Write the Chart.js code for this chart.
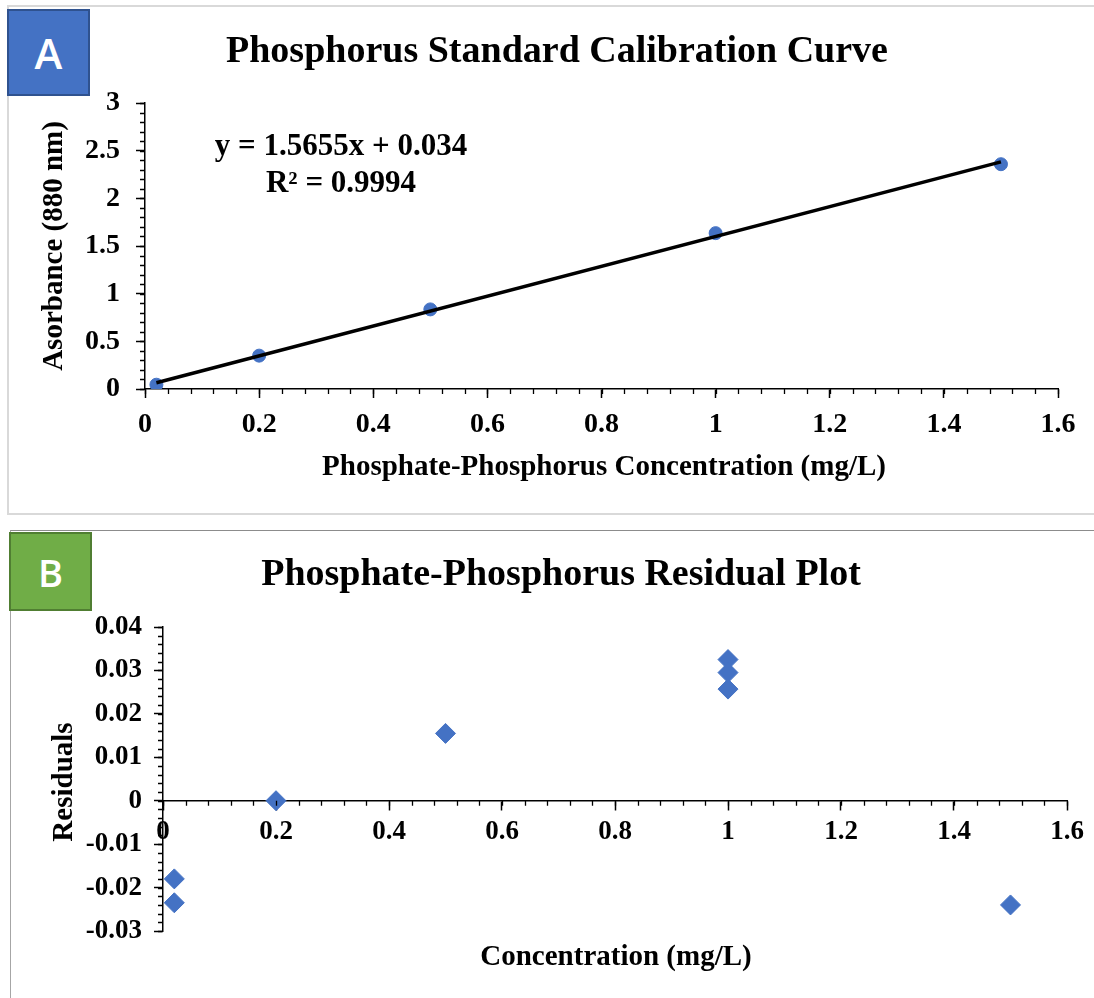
<!DOCTYPE html>
<html>
<head>
<meta charset="utf-8">
<script src="https://cdn.jsdelivr.net/npm/chart.js@4/dist/chart.umd.min.js"></script>
<style>
  body { margin: 0; width: 1094px; height: 998px; overflow: hidden; background: #fff; position: relative; }
  .panel { position: absolute; box-sizing: border-box; }
  #panelA { left: 7px; top: 5px; width: 1110px; height: 510px; border: 2px solid #d9d9d9; }
  #panelB { left: 10px; top: 530px; width: 1110px; height: 500px; border-top: 1.5px solid #8c8c8c; border-left: 1.5px solid #a6a6a6; }
  .tag { position: absolute; box-sizing: border-box; color: #fff; font-family: "Open Sans", sans-serif; font-weight: 600;
         display: flex; align-items: center; justify-content: center; z-index: 2; }
  #tagA { left: 7px; top: 9px; width: 83px; height: 87px; background: #4472C4; border: 2px solid #2F528F; font-size: 42px; }
  #tagB { left: 9px; top: 532px; width: 83px; height: 79px; background: #70AD47; border: 2px solid #507E32; font-size: 38px; }
  canvas { position: absolute; z-index: 1; }
  #chartA { left: 8px; top: 6px; }
  #chartB { left: 10px; top: 530px; }
</style>
</head>
<body>
<div class="panel" id="panelA"></div>
<div class="panel" id="panelB"></div>
<div class="tag" id="tagA">A</div>
<div class="tag" id="tagB">B</div>
<canvas id="chartA" width="1086" height="507"></canvas>
<canvas id="chartB" width="1084" height="468"></canvas>
<script>
// calibration standards
const concentrations = [0.02, 0.2, 0.5, 1.0, 1.5];
const absorbances = [0.045, 0.35, 0.835, 1.635, 2.358];
const SLOPE = 1.5655;
const INTERCEPT = 0.034;
const R_SQUARED = "0.9994";

// residuals of the replicates
const residualConc = [0.02, 0.02, 0.2, 0.5, 1.0, 1.0, 1.0, 1.5];
const residuals = [-0.018, -0.0235, 0.0, 0.0155, 0.0325, 0.0295, 0.0257, -0.024];

// axis ticks
const concTicks = [0, 0.2, 0.4, 0.6, 0.8, 1, 1.2, 1.4, 1.6];
const absTicks = [0, 0.5, 1, 1.5, 2, 2.5, 3];
const residTicks = [-0.03, -0.02, -0.01, 0, 0.01, 0.02, 0.03, 0.04];

const SERIF = '"Liberation Serif", "Times New Roman", serif';
const BLUE = "#4472C4";

function minorSteps(min, max, step) {
  const out = [];
  const n = Math.round((max - min) / step);
  for (let i = 0; i <= n; i++) out.push(min + i * step);
  return out;
}

// minor tick marks + free text (titles, equation)
const overlay = {
  id: "overlay",
  afterDraw(chart, args, opts) {
    const ctx = chart.ctx;
    const xs = chart.scales.x, ys = chart.scales.y;
    const axisY = opts.xAt === undefined ? chart.chartArea.bottom : ys.getPixelForValue(opts.xAt);
    const axisX = chart.chartArea.left;
    ctx.save();
    ctx.strokeStyle = "#000";
    ctx.lineWidth = 1.3;
    ctx.beginPath();
    opts.xMinor.forEach(v => {
      const px = Math.round(xs.getPixelForValue(v)) + 0.5;
      ctx.moveTo(px, axisY);
      ctx.lineTo(px, axisY + 5);
    });
    opts.yMinor.forEach(v => {
      const py = Math.round(ys.getPixelForValue(v)) + 0.5;
      ctx.moveTo(axisX - 5, py);
      ctx.lineTo(axisX, py);
    });
    ctx.stroke();

    ctx.fillStyle = "#000";
    ctx.textAlign = "center";
    ctx.textBaseline = "alphabetic";
    opts.texts.forEach(t => {
      ctx.save();
      ctx.font = "bold " + t.size + "px " + SERIF;
      ctx.translate(t.x, t.y);
      if (t.rot) ctx.rotate(t.rot);
      ctx.fillText(t.text, 0, 0);
      ctx.restore();
    });
    ctx.restore();
  }
};

function valueAxis(min, max, values, tickPad, fontSize, extra) {
  return Object.assign({
    type: "linear",
    min: min,
    max: max,
    afterBuildTicks: s => { s.ticks = values.map(v => ({ value: v })); },
    ticks: {
      callback: v => String(v),
      color: "#000",
      font: { family: SERIF, size: fontSize, weight: "bold" },
      padding: tickPad,
      maxRotation: 0,
      autoSkip: false
    },
    grid: { drawOnChartArea: false, drawTicks: true, tickLength: 9, tickColor: "#000", tickWidth: 1.5 },
    border: { color: "#000", width: 1.5 }
  }, extra);
}

// A: calibration curve
new Chart(document.getElementById("chartA"), {
  type: "scatter",
  data: {
    datasets: [
      {
        type: "line",
        label: "Linear fit",
        data: [
          { x: concentrations[0], y: SLOPE * concentrations[0] + INTERCEPT },
          { x: concentrations[concentrations.length - 1], y: SLOPE * concentrations[concentrations.length - 1] + INTERCEPT }
        ],
        borderColor: "#000",
        borderWidth: 3.5,
        pointRadius: 0,
        order: 0
      },
      {
        label: "Absorbance",
        data: concentrations.map((c, i) => ({ x: c, y: absorbances[i] })),
        backgroundColor: BLUE,
        borderColor: BLUE,
        pointRadius: 6.5,
        order: 1
      }
    ]
  },
  options: {
    responsive: false,
    animation: false,
    layout: { padding: { left: 0, top: 97, right: 36, bottom: 0 } },
    plugins: {
      legend: { display: false },
      tooltip: { enabled: false },
      overlay: {
        xMinor: minorSteps(0, 1.6, 0.04),
        yMinor: minorSteps(0, 3, 0.1),
        texts: [
          { text: "Phosphorus Standard Calibration Curve", size: 38, x: 549, y: 56 },
          { text: "Asorbance (880 nm)", size: 29, x: 54, y: 240, rot: -Math.PI / 2 },
          { text: "Phosphate-Phosphorus Concentration (mg/L)", size: 29, x: 596, y: 469 },
          { text: "y = 1.5655x + 0.034", size: 31, x: 333, y: 149 },
          { text: "R\u00B2 = " + R_SQUARED, size: 31, x: 333, y: 186 }
        ]
      }
    },
    scales: {
      x: valueAxis(0, 1.6, concTicks, 10, 28, { position: "bottom", afterFit: s => { s.height = 124; } }),
      y: valueAxis(0, 3, absTicks, 16, 28, { position: "left", afterFit: s => { s.width = 137; } })
    }
  },
  plugins: [overlay]
});

// B: residual plot
new Chart(document.getElementById("chartB"), {
  type: "scatter",
  data: {
    datasets: [
      {
        label: "Residuals",
        data: residualConc.map((c, i) => ({ x: c, y: residuals[i] })),
        pointStyle: "rectRot",
        backgroundColor: BLUE,
        borderColor: BLUE,
        pointRadius: 10
      }
    ]
  },
  options: {
    responsive: false,
    animation: false,
    layout: { padding: { left: 0, top: 97, right: 27, bottom: 67 } },
    plugins: {
      legend: { display: false },
      tooltip: { enabled: false },
      overlay: {
        xAt: 0,
        xMinor: minorSteps(0, 1.6, 0.04),
        yMinor: minorSteps(-0.03, 0.04, 0.002),
        texts: [
          { text: "Phosphate-Phosphorus Residual Plot", size: 38, x: 551, y: 55 },
          { text: "Residuals", size: 29, x: 62, y: 252, rot: -Math.PI / 2 },
          { text: "Concentration (mg/L)", size: 29, x: 606, y: 435 }
        ]
      }
    },
    scales: {
      x: valueAxis(0, 1.6, concTicks, 6, 27, { position: { y: 0 } }),
      y: valueAxis(-0.03, 0.04, residTicks, 12, 27, { position: "left", afterFit: s => { s.width = 153; } })
    }
  },
  plugins: [overlay]
});
</script>
</body>
</html>
